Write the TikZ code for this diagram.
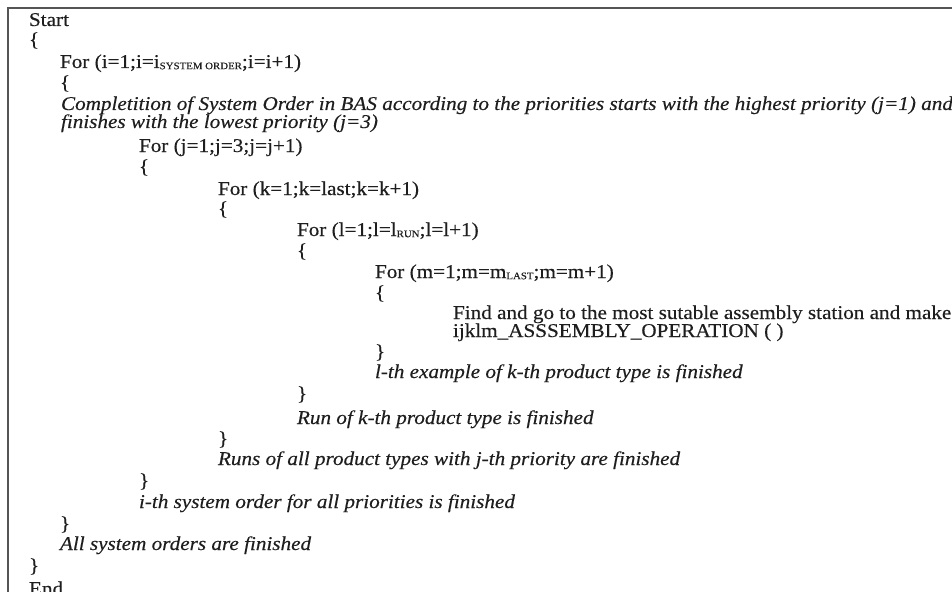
\documentclass[tikz,border=0pt]{standalone}
\usepackage{fontspec}
\setmainfont{Liberation Serif}[FakeStretch=1.085,FakeBold=0.35]
\newcommand{\mysub}[1]{\raisebox{-1.2pt}{\fontsize{10}{10}\selectfont #1}}
\definecolor{ink}{RGB}{30,30,30}
\definecolor{frame}{RGB}{85,85,85}
\tikzset{
  txt/.style={anchor=base west, inner sep=0pt, outer sep=0pt, text=ink,
              font=\fontsize{19.5}{21}\selectfont},
  it/.style={txt, font=\fontsize{19.5}{21}\selectfont\itshape},
  framebar/.style={draw=frame, line width=2.2pt}
}
\begin{document}
\begin{tikzpicture}[x=1pt, y=-1pt]
\useasboundingbox (0,0) rectangle (952,591);
\coordinate (fc) at (8,8);
\coordinate (fr) at (960,8);
\coordinate (fb) at (8,600);
\draw[framebar] (fr) -- (fc) -- (fb);
% level 0
\node[txt] (start) at (29,26) {Start};
\node[txt] (b0o) at (29,46) {\{};
% level 1
\node[txt] (fori) at (60,68) {For (i=1;i=i\mysub{SYSTEM ORDER};i=i+1)};
\node[txt] (b1o) at (60,89) {\{};
\node[it] (comp1) at (61,110) {Completition of System Order in BAS according to the priorities starts with the highest priority (j=1) and};
\node[it] (comp2) at (61,128) {finishes with the lowest priority (j=3)};
% level 2
\node[txt] (forj) at (139,152) {For (j=1;j=3;j=j+1)};
\node[txt] (b2o) at (139,173) {\{};
% level 3
\node[txt] (fork) at (218,195) {For (k=1;k=last;k=k+1)};
\node[txt] (b3o) at (218,215) {\{};
% level 4
\node[txt] (forl) at (297,236) {For (l=1;l=l\mysub{RUN};l=l+1)};
\node[txt] (b4o) at (297,257) {\{};
% level 5
\node[txt] (form) at (375,278) {For (m=1;m=m\mysub{LAST};m=m+1)};
\node[txt] (b5o) at (375,299) {\{};
% level 6
\node[txt] (find) at (453,319) {Find and go to the most sutable assembly station and make};
\node[txt] (oper) at (453,337) {ijklm\_ASSSEMBLY\_OPERATION ( )};
% closing
\node[txt] (b5c) at (375,358) {\}};
\node[it] (lth) at (375,378) {l-th example of k-th product type is finished};
\node[txt] (b4c) at (297,400) {\}};
\node[it] (run) at (297,424) {Run of k-th product type is finished};
\node[txt] (b3c) at (218,445) {\}};
\node[it] (runs) at (218,465) {Runs of all product types with j-th priority are finished};
\node[txt] (b2c) at (139,487) {\}};
\node[it] (ith) at (139,508) {i-th system order for all priorities is finished};
\node[txt] (b1c) at (60,530) {\}};
\node[it] (all) at (60,550) {All system orders are finished};
\node[txt] (b0c) at (29,572) {\}};
\node[txt] (end) at (29,595) {End};
\end{tikzpicture}
\end{document}
